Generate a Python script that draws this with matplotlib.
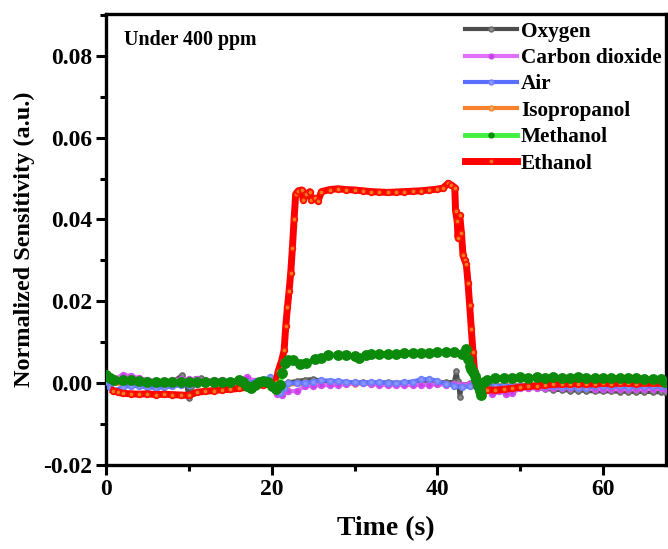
import matplotlib
matplotlib.use("Agg")
import matplotlib.pyplot as plt
from matplotlib.ticker import MultipleLocator, AutoMinorLocator
from matplotlib.lines import Line2D

plt.rcParams["font.family"] = ["Liberation Serif", "DejaVu Serif"]
plt.rcParams["font.weight"] = "bold"

# ---- response traces (time in s, normalized sensitivity in a.u.) ----
t_oxygen = [0, 1, 2, 3, 4, 5, 6, 7, 8, 9.2, 9.6, 10.0, 10.3, 10.8, 11.5, 12, 13, 14, 15, 16, 17, 18, 19, 20,
            21, 22, 23, 24, 25, 26, 27, 28, 29, 30, 31, 32, 33, 34, 35, 36, 37, 38, 39, 40, 41, 42, 42.3, 42.5,
            42.7, 43, 44, 45, 46, 47, 48, 49, 50, 51, 52, 53, 54, 55, 56, 57, 58, 59, 60, 61, 62, 63, 64, 65,
            66, 67, 67.5]
v_oxygen = [0.0003, 0.0002, 0.0002, 0.0002, 0.0001, 0.0002, 0.0002, 0.0001, 0.0002, 0.0020, 0.0005, -0.0037,
            -0.0010, 0.0010, 0.0012, 0.0008, 0.0003, 0.0003, 0.0002, 0.0002, 0.0001, 0.0001, 0.0000, 0.0000,
            -0.0005, 0.0002, 0.0005, 0.0008, 0.0010, 0.0006, 0.0003, 0.0002, 0.0002, 0.0001, 0.0002, 0.0001,
            0.0001, 0.0002, 0.0001, 0.0001, 0.0002, 0.0002, 0.0001, 0.0002, 0.0002, 0.0003, 0.0030, 0.0005,
            -0.0035, -0.0005, 0.0000, -0.0002, -0.0005, -0.0007, -0.0008, -0.0010, -0.0011, -0.0012, -0.0012,
            -0.0014, -0.0016, -0.0017, -0.0018, -0.0018, -0.0019, -0.0020, -0.0020, -0.0020, -0.0021, -0.0021,
            -0.0022, -0.0021, -0.0022, -0.0022, -0.0022]

t_co2 = [0, 1, 2, 3, 4, 5, 6, 7, 8, 9, 10, 11, 12, 13, 14, 15, 16, 17, 18, 19, 20, 20.6, 21.2, 22, 23, 24, 25,
         26, 27, 28, 29, 30, 31, 32, 33, 34, 35, 36, 37, 38, 39, 40, 41, 42, 43, 44, 45, 45.8, 46.6, 47.5, 48.3,
         49, 50, 51, 52, 53, 54, 55, 56, 57, 58, 59, 60, 61, 62, 63, 64, 65, 66, 67, 67.5]
v_co2 = [0.0012, 0.0010, 0.0020, 0.0018, 0.0012, 0.0008, 0.0006, 0.0006, 0.0007, 0.0009, 0.0010, 0.0009,
         0.0008, 0.0007, 0.0007, 0.0006, 0.0008, 0.0015, 0.0005, 0.0000, -0.0010, -0.0026, -0.0030, -0.0020,
         -0.0019, -0.0008, -0.0006, -0.0005, -0.0005, -0.0004, -0.0002, 0.0000, 0.0000, -0.0002, -0.0004,
         -0.0005, -0.0005, -0.0004, -0.0005, -0.0004, -0.0004, -0.0003, -0.0004, -0.0003, -0.0004, -0.0003,
         -0.0006, -0.0012, -0.0027, -0.0020, -0.0026, -0.0024, -0.0013, -0.0012, -0.0012, -0.0011, -0.0012,
         -0.0012, -0.0011, -0.0012, -0.0013, -0.0014, -0.0014, -0.0014, -0.0015, -0.0014, -0.0015, -0.0014,
         -0.0014, -0.0013, -0.0014]

t_air = [0, 0.5, 1, 2, 3, 4, 5, 6, 7, 8, 9, 10, 11, 12, 13, 14, 15, 16, 17, 18, 19, 19.8, 20.4, 21, 21.5, 22,
         23, 24, 25, 26, 27, 28, 29, 30, 31, 32, 33, 34, 35, 36, 37, 38, 39, 40, 41, 42, 43, 44, 45, 46, 47, 48,
         49, 50, 51, 52, 53, 54, 55, 56, 57, 58, 59, 60, 61, 62, 63, 64, 65, 66, 67, 67.5]
v_air = [0.0005, -0.0010, -0.0018, -0.0010, -0.0006, -0.0008, -0.0010, -0.0012, -0.0010, -0.0008, -0.0005,
         -0.0004, -0.0002, 0.0000, 0.0001, 0.0001, 0.0002, 0.0002, 0.0003, 0.0002, 0.0008, 0.0015, -0.0008,
         -0.0024, -0.0012, 0.0000, 0.0000, 0.0001, 0.0003, 0.0007, 0.0006, 0.0005, 0.0003, 0.0002, 0.0001,
         0.0002, 0.0002, 0.0001, 0.0000, 0.0002, 0.0004, 0.0009, 0.0010, 0.0006, -0.0002, -0.0006, -0.0010,
         -0.0008, -0.0010, -0.0008, -0.0006, -0.0006, -0.0007, -0.0006, -0.0006, -0.0007, -0.0008, -0.0008,
         -0.0009, -0.0010, -0.0012, -0.0012, -0.0006, -0.0007, -0.0008, -0.0008, -0.0009, -0.0008, -0.0008,
         -0.0008, -0.0008, -0.0008]

t_isopropanol = [0, 2, 4, 6, 8, 10, 12, 14, 16, 18, 20, 22, 24, 26, 28, 30, 32, 34, 36, 38, 40, 42, 44, 46,
                 48, 50, 52, 54, 56, 58, 60, 62, 64, 66, 67.5]
v_isopropanol = [0.0000, -0.0002, -0.0003, -0.0003, -0.0002, -0.0002, -0.0001, 0.0000, 0.0000, -0.0002,
                 -0.0004, -0.0003, -0.0002, 0.0000, 0.0000, -0.0001, -0.0002, -0.0002, -0.0001, 0.0000,
                 -0.0001, -0.0003, -0.0004, -0.0006, -0.0005, -0.0004, -0.0004, -0.0005, -0.0006, -0.0006,
                 -0.0007, -0.0008, -0.0008, -0.0009, -0.0010]

t_methanol = [0, 0.5, 1, 2, 3, 4, 5, 6, 7, 8, 9, 10, 11, 12, 13, 14, 15, 16, 16.5, 17, 17.5, 18, 18.5, 19,
              19.5, 20, 20.5, 21, 21.3, 21.6, 22, 22.6, 23.4, 24.2, 25.2, 26, 26.8, 28, 29, 30, 30.6, 31.4, 32,
              33, 34, 35, 36, 37, 38, 39, 40, 41, 42, 43, 43.5, 43.7, 43.9, 44.1, 44.3, 44.5, 44.7, 44.9, 45.1,
              45.3, 45.6, 46, 47, 48, 49, 50, 51, 52, 53, 54, 55, 56, 57, 58, 59, 60, 61, 62, 63, 64, 65, 66, 67,
              67.5]
v_methanol = [0.0020, 0.0012, 0.0008, 0.0008, 0.0007, 0.0005, 0.0004, 0.0003, 0.0004, 0.0003, 0.0004, 0.0003,
              0.0003, 0.0003, 0.0003, 0.0003, 0.0004, 0.0008, 0.0002, -0.0008, -0.0012, -0.0005, 0.0003, 0.0006,
              0.0003, -0.0008, -0.0014, -0.0005, 0.0025, 0.0050, 0.0056, 0.0056, 0.0047, 0.0050, 0.0058, 0.0062,
              0.0068, 0.0070, 0.0068, 0.0066, 0.0062, 0.0070, 0.0071, 0.0071, 0.0072, 0.0072, 0.0073, 0.0073,
              0.0073, 0.0074, 0.0075, 0.0076, 0.0075, 0.0072, 0.0084, 0.0060, 0.0043, 0.0035, 0.0027, 0.0018,
              0.0008, -0.0006, -0.0020, -0.0030, 0.0002, 0.0008, 0.0012, 0.0013, 0.0013, 0.0014, 0.0013, 0.0014,
              0.0013, 0.0014, 0.0013, 0.0013, 0.0014, 0.0013, 0.0013, 0.0012, 0.0013, 0.0012, 0.0012, 0.0012,
              0.0011, 0.0011, 0.0010, 0.0003]

t_ethanol = [0.9, 1.5, 2, 3, 4, 5, 6, 7, 8, 9, 10, 11, 12, 13, 14, 15, 16, 17, 18, 19, 20, 20.5, 20.8, 21.2,
             21.5, 21.7, 21.9, 22.1, 22.3, 22.5, 22.7, 22.9, 23.2, 23.6, 23.8, 24.2, 24.6, 24.8, 25.2, 25.6, 26,
             27, 28, 29, 30, 31, 32, 33, 34, 35, 36, 37, 38, 39, 40, 40.7, 41.3, 41.7, 42.1, 42.2, 42.4, 42.5,
             42.7, 42.9, 43.1, 43.3, 43.5, 43.7, 43.9, 44.1, 44.3, 44.5, 44.7, 45, 45.5, 46, 47, 48, 49, 50, 51,
             52, 53, 54, 55, 56, 57, 58, 59, 60, 61, 62, 63, 64, 65, 66, 67, 67.5]
v_ethanol = [-0.0018, -0.0022, -0.0025, -0.0026, -0.0027, -0.0026, -0.0028, -0.0027, -0.0028, -0.0029, -0.0030,
             -0.0022, -0.0020, -0.0018, -0.0016, -0.0015, -0.0013, -0.0010, -0.0006, -0.0004, -0.0003, 0.0003,
             0.0030, 0.0055, 0.0080, 0.0140, 0.0185, 0.0225, 0.0270, 0.0330, 0.0400, 0.0462, 0.0470, 0.0472,
             0.0448, 0.0462, 0.0468, 0.0448, 0.0452, 0.0445, 0.0468, 0.0473, 0.0475, 0.0473, 0.0472, 0.0470,
             0.0468, 0.0467, 0.0466, 0.0467, 0.0468, 0.0469, 0.0470, 0.0472, 0.0474, 0.0477, 0.0488, 0.0484,
             0.0478, 0.0420, 0.0395, 0.0355, 0.0410, 0.0368, 0.0312, 0.0300, 0.0290, 0.0245, 0.0190, 0.0132,
             0.0076, 0.0027, -0.0005, -0.0012, -0.0015, -0.0016, -0.0017, -0.0015, -0.0013, -0.0010, -0.0008,
             -0.0006, -0.0004, -0.0003, -0.0002, -0.0002, -0.0001, -0.0002, -0.0001, 0.0000, -0.0001, 0.0000,
             0.0000, -0.0001, 0.0000, 0.0000, 0.0000, -0.0001]

# name -> line colour, marker face, marker edge, line width, marker size
styles = {
    "Oxygen":         ("#4d4d4d", "#8c8c8c", "#6a6a6a", 3.0, 3.5),
    "Carbon dioxide": ("#e070f5", "#c83ce6", "#d050ee", 3.0, 4.0),
    "Air":            ("#5a6eff", "#8a96ff", "#6f80ff", 3.0, 4.0),
    "Isopropanol":    ("#f5822d", "#f8aa60", "#f5822d", 3.0, 3.5),
    "Methanol":       ("#3ff03f", "#0b8a0b", "#0b8a0b", 3.5, 6.5),
    "Ethanol":        ("#ff0000", "#f07a1e", "#ff1000", 5.0, 4.0),
}
series = {
    "Oxygen": (t_oxygen, v_oxygen),
    "Carbon dioxide": (t_co2, v_co2),
    "Air": (t_air, v_air),
    "Isopropanol": (t_isopropanol, v_isopropanol),
    "Methanol": (t_methanol, v_methanol),
    "Ethanol": (t_ethanol, v_ethanol),
}
draw_order = ["Isopropanol", "Oxygen", "Carbon dioxide", "Air", "Ethanol", "Methanol"]

fig = plt.figure(figsize=(6.68, 5.49), dpi=100)
ax = fig.add_axes([0.1587, 0.153, 0.8383, 0.8215])

for z, name in enumerate(draw_order):
    lc, mf, me, lw, ms = styles[name]
    t, v = series[name]
    ax.plot(t, v, color=lc, lw=lw, marker="o", ms=ms, mfc=mf, mec=me, mew=1.3, zorder=2 + z)

handles = []
for name in series:
    lc, mf, me, lw, ms = styles[name]
    handles.append(Line2D([], [], color=lc, lw=lw, marker="o", ms=3.5, mfc=mf, mec=me, mew=1))
ax.legend(handles, list(series), loc="upper right", bbox_to_anchor=(1.013, 1.009), frameon=False,
          prop={"weight": "bold", "size": 15.3}, handlelength=2.45, handletextpad=0.2,
          labelspacing=0.3, borderaxespad=0.15)

ax.text(0.033, 0.942, "Under 400 ppm", transform=ax.transAxes, fontsize=14.4, fontweight="bold",
        va="center", ha="left")

ax.set_xlim(0, 67.6)
ax.set_ylim(-0.02, 0.0902)
ax.xaxis.set_major_locator(MultipleLocator(20))
ax.xaxis.set_minor_locator(AutoMinorLocator(2))
ax.set_yticks([-0.02, 0.0, 0.02, 0.04, 0.06, 0.08])
ax.set_yticklabels(["-0.02", "0.00", "0.02", "0.04", "0.06", "0.08"])
ax.yaxis.set_minor_locator(AutoMinorLocator(2))
ax.tick_params(which="major", direction="out", length=7, width=2.2, labelsize=17, pad=3)
ax.tick_params(which="minor", direction="out", length=4, width=2.2)
for sp in ax.spines.values():
    sp.set_linewidth(2.4)
for lab in ax.get_xticklabels() + ax.get_yticklabels():
    lab.set_fontweight("bold")

ax.set_xlabel("Time (s)", fontsize=20, fontweight="bold", labelpad=12)
ax.set_ylabel("Normalized Sensitivity (a.u.)", fontsize=17.5, fontweight="bold", labelpad=6)

fig.savefig("out.png", dpi=100)
